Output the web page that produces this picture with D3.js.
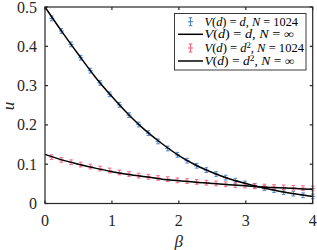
<!DOCTYPE html>
<html><head><meta charset="utf-8">
<script src="https://cdn.jsdelivr.net/npm/d3@7"></script>
<style>html,body{margin:0;padding:0;background:#fff;}svg{display:block;}</style>
</head><body><svg id="c" width="317" height="250"></svg>
<script>
// ---- data ----
const betaMarkers = d3.range(28).map(k => +(0.1 + k * 3.9 / 27).toFixed(4));
const uLinearN1024 = [0.471,0.439,0.405,0.371,0.338,0.307,0.278,0.251,0.225,0.201,0.179,0.158,0.140,0.124,0.109,0.096,0.085,0.075,0.066,0.058,0.051,0.045,0.039,0.034,0.029,0.025,0.021,0.018];
const uQuadN1024 = [0.118,0.111,0.105,0.099,0.094,0.089,0.084,0.079,0.075,0.071,0.068,0.065,0.062,0.059,0.057,0.055,0.053,0.051,0.049,0.047,0.046,0.044,0.043,0.042,0.041,0.040,0.039,0.038];
const errLinear = 0.006;
const errQuad = 0.006;
const betaLine = [0,0.25,0.5,0.75,1,1.25,1.5,1.75,2,2.25,2.5,2.75,3,3.25,3.5,3.75,4];
const uLinearInf = [0.5,0.438,0.379,0.322,0.272,0.226,0.186,0.152,0.122,0.098,0.079,0.063,0.051,0.040,0.031,0.024,0.018];
const uQuadInf = [0.125,0.111,0.100,0.090,0.081,0.074,0.068,0.062,0.058,0.054,0.051,0.048,0.045,0.042,0.040,0.038,0.036];
const xTicks = [0,1,2,3,4];
const yTicks = [0,0.1,0.2,0.3,0.4,0.5];

const blue = "#4a80c4", red = "#f2647f", axisCol = "#262626";
const font = "'Liberation Serif', 'DejaVu Serif', serif";

const svg = d3.select("#c");
const x = d3.scaleLinear().domain([0,4]).range([45, 312.7]);
const y = d3.scaleLinear().domain([0,0.5]).range([203.5, 7]);

// markers (error bars)
function drawMarkers(vals, err, col) {
  const g = svg.append("g").attr("stroke", col).attr("stroke-width", 1.1).attr("fill","none").attr("opacity",0.9);
  betaMarkers.forEach((b,i) => {
    const cx = x(b), cy = y(vals[i]), top = y(vals[i]+err), bot = y(vals[i]-err);
    g.append("line").attr("x1",cx).attr("x2",cx).attr("y1",top).attr("y2",bot);
    g.append("line").attr("x1",cx-1.8).attr("x2",cx+1.8).attr("y1",top).attr("y2",top);
    g.append("line").attr("x1",cx-1.8).attr("x2",cx+1.8).attr("y1",bot).attr("y2",bot);
    g.append("line").attr("x1",cx-2.5).attr("x2",cx+2.5).attr("y1",cy).attr("y2",cy);
  });
}
drawMarkers(uLinearN1024, errLinear, blue);
drawMarkers(uQuadN1024, errQuad, red);

const line = d3.line().x((d,i)=>x(betaLine[i])).y(d=>y(d)).curve(d3.curveCatmullRom);
svg.append("path").attr("d", line(uLinearInf)).attr("fill","none").attr("stroke","#000").attr("stroke-width",1.5);
svg.append("path").attr("d", line(uQuadInf)).attr("fill","none").attr("stroke","#000").attr("stroke-width",1.5);

// axes box
const gAx = svg.append("g").attr("stroke", axisCol).attr("stroke-width", 1.2).attr("fill","none");
gAx.append("rect").attr("x", x(0)).attr("y", y(0.5)).attr("width", x(4)-x(0)).attr("height", y(0)-y(0.5));
xTicks.forEach(t => {
  gAx.append("line").attr("x1",x(t)).attr("x2",x(t)).attr("y1",y(0)).attr("y2",y(0)-3);
  gAx.append("line").attr("x1",x(t)).attr("x2",x(t)).attr("y1",y(0.5)).attr("y2",y(0.5)+3);
});
yTicks.forEach(t => {
  gAx.append("line").attr("x1",x(0)).attr("x2",x(0)+3).attr("y1",y(t)).attr("y2",y(t));
  gAx.append("line").attr("x1",x(4)).attr("x2",x(4)-3).attr("y1",y(t)).attr("y2",y(t));
});
svg.append("g").selectAll("text").data(xTicks).join("text")
  .attr("x", d=>x(d)).attr("y", 225.5).attr("text-anchor","middle")
  .attr("font-family", font).attr("font-size", 16).attr("fill", axisCol).text(d=>d);
svg.append("g").selectAll("text").data(yTicks).join("text")
  .attr("x", 37).attr("y", d=>y(d)+5.5).attr("text-anchor","end")
  .attr("font-family", font).attr("font-size", 16).attr("fill", axisCol).text(d=>d===0?"0":d3.format(".1f")(d));
svg.append("text").attr("x", x(2)).attr("y", 247).attr("text-anchor","middle")
  .attr("font-family", font).attr("font-size", 17).attr("font-style","italic").attr("fill", axisCol).text("β");
svg.append("text").attr("transform","translate(14,106) rotate(-90)").attr("text-anchor","middle")
  .attr("font-family", font).attr("font-size", 17).attr("font-style","italic").attr("fill", axisCol).text("u");

// legend
const lg = svg.append("g");
lg.append("rect").attr("x",174.5).attr("y",13.5).attr("width",131.5).attr("height",56.5)
  .attr("fill","#fff").attr("stroke",axisCol).attr("stroke-width",0.9);
const rows = [
  {type:"err", col:blue, sup:false, n:"1024", w:93.5},
  {type:"line", col:"#000", sup:false, n:"∞", w:89.5},
  {type:"err", col:red, sup:true, n:"1024", w:99.5},
  {type:"line", col:"#000", sup:true, n:"∞", w:90}
];
const rowY = [21.7, 34.3, 48, 61];
rows.forEach((r,i) => {
  const cy = rowY[i];
  if (r.type === "line") {
    lg.append("line").attr("x1",178).attr("x2",203).attr("y1",cy).attr("y2",cy).attr("stroke","#000").attr("stroke-width",1.5);
  } else {
    const gg = lg.append("g").attr("stroke", r.col).attr("stroke-width",1.1);
    gg.append("line").attr("x1",190.5).attr("x2",190.5).attr("y1",cy-4).attr("y2",cy+4);
    gg.append("line").attr("x1",188.7).attr("x2",192.3).attr("y1",cy-4).attr("y2",cy-4);
    gg.append("line").attr("x1",188.7).attr("x2",192.3).attr("y1",cy+4).attr("y2",cy+4);
    gg.append("line").attr("x1",188).attr("x2",193).attr("y1",cy).attr("y2",cy);
  }
  const t = lg.append("text").attr("x",204.5).attr("y",cy+4).attr("font-family",font).attr("font-size",11.5).attr("fill","#000")
    .attr("textLength", r.w).attr("lengthAdjust","spacingAndGlyphs");
  t.append("tspan").attr("font-style","italic").text("V");
  t.append("tspan").text("(");
  t.append("tspan").attr("font-style","italic").text("d");
  t.append("tspan").text(") = ");
  t.append("tspan").attr("font-style","italic").text("d");
  if (r.sup) t.append("tspan").attr("font-size",8).attr("dy",-4).text("2");
  t.append("tspan").attr("dy", r.sup ? 4 : 0).text(", ");
  t.append("tspan").attr("font-style","italic").text("N");
  t.append("tspan").text(" = " + r.n);
});
</script></body></html>
